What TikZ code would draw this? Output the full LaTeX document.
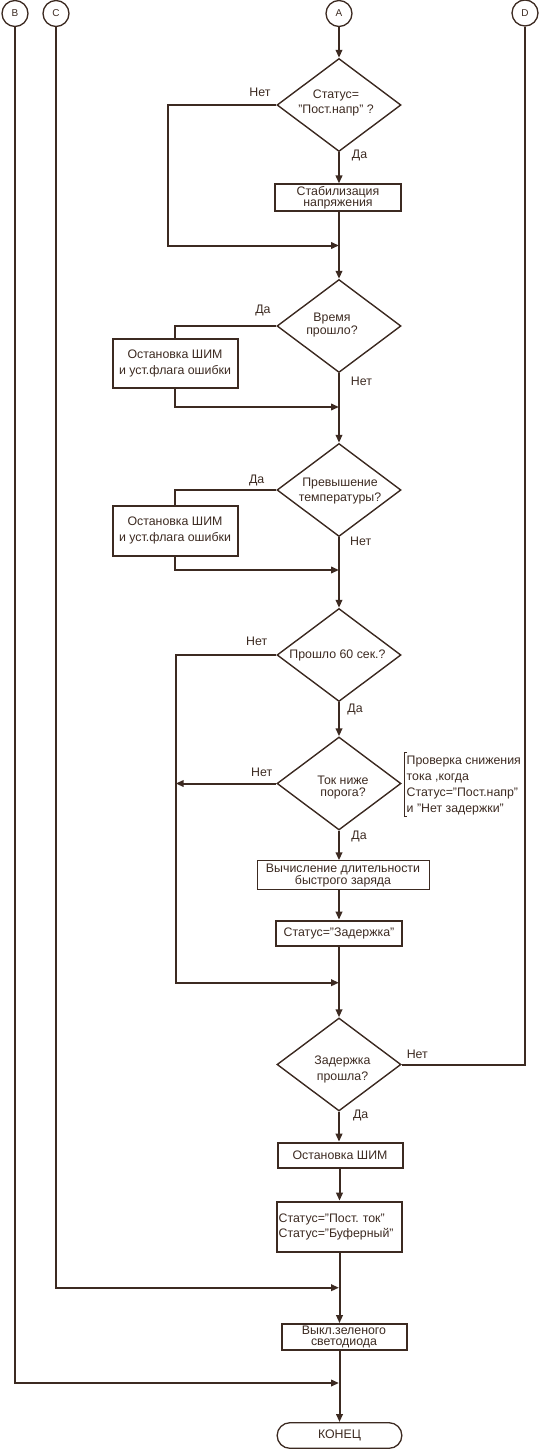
\documentclass[tikz,border=0pt]{standalone}
\usepackage{fontspec}
\setmainfont{Liberation Sans}
\usetikzlibrary{shapes.geometric,arrows.meta}
\definecolor{ln}{HTML}{3C2A21}
\frenchspacing
\begin{document}
\begin{tikzpicture}[x=1bp,y=-1bp,
  every node/.style={text=ln, font=\fontsize{12.4}{14}\selectfont},
  conn/.style={draw=ln, line width=2bp},
  arr/.style={conn, -{Triangle[length=8bp,width=6.5bp]}},
  dia/.style={shape=diamond, draw=ln, line width=1.4bp, minimum width=124bp, minimum height=93bp, inner sep=0pt},
  box/.style={draw=ln, line width=2bp, rectangle, inner sep=0pt, align=center},
  con/.style={circle, draw=ln, line width=1.3bp, minimum size=26bp, inner sep=0pt, font=\fontsize{10}{12}\selectfont},
  lbl/.style={inner sep=0pt}]
\path[use as bounding box] (0,0) rectangle (539,1451);

% connectors (circles)
\node[con] (A) at (339,13.5) {A};
\node[con] (B) at (15,13.5) {B};
\node[con] (C) at (56,13.5) {C};
\node[con] (D) at (525,13) {D};

% decisions and boxes
\node[dia] (d1) at (339,105) {};
\node[lbl, align=center, font=\fontsize{12.4}{15}\selectfont] at (336,103) {Статус=\\"Пост.напр" ?};
\node[box, minimum width=126bp, minimum height=26bp, font=\fontsize{12.4}{11.5}\selectfont] (s1) at (338,197.5) {Стабилизация\\напряжения};

\node[dia] (d2) at (339,326) {};
\node[lbl, align=center, font=\fontsize{12.4}{13}\selectfont] at (332,325) {Время\\прошло?};
\node[box, minimum width=125bp, minimum height=49bp, font=\fontsize{12.4}{16}\selectfont] (o1) at (175,363.5) {Остановка ШИМ\\и уст.флага ошибки};

\node[dia] (d3) at (339,490) {};
\node[lbl, align=center, font=\fontsize{12.4}{16}\selectfont] at (340,491) {Превышение\\температуры?};
\node[box, minimum width=125bp, minimum height=50bp, font=\fontsize{12.4}{16}\selectfont] (o2) at (175,530.5) {Остановка ШИМ\\и уст.флага ошибки};

\node[dia] (d4) at (339,655) {};
\node[lbl] at (337.5,655.5) {Прошло 60 сек.?};

\node[dia] (d5) at (339,783.5) {};
\node[lbl, align=center, font=\fontsize{12.4}{13}\selectfont] at (343,787.5) {Ток ниже\\порога?};

\node[box, line width=1bp, minimum width=172bp, minimum height=29bp, font=\fontsize{12.4}{10.5}\selectfont] (calc) at (343,875.3) {Вычисление длительности\\быстрого заряда};
\node[box, line width=2.3bp, minimum width=126bp, minimum height=25bp] (zad) at (339,933.3) {Статус="Задержка"};

\node[dia] (d6) at (339,1064.5) {};
\node[lbl, align=center, font=\fontsize{12.4}{16}\selectfont] at (342.5,1069) {Задержка\\прошла?};

\node[box, minimum width=125bp, minimum height=25.6bp] (ost) at (340,1155.5) {Остановка ШИМ};
\node[box, align=left, inner xsep=2bp, text width=121.6bp, minimum height=50.6bp, font=\fontsize{12.4}{15}\selectfont] (st2) at (339.5,1227) {Статус="Пост. ток"\\Статус="Буферный"};
\node[box, minimum width=125bp, minimum height=25.7bp, font=\fontsize{12.4}{11.5}\selectfont] (vykl) at (344,1337) {Выкл.зеленого\\светодиода};
\node[draw=ln, line width=1.3bp, rounded corners=12.8bp, minimum width=124.7bp, minimum height=25.6bp, inner sep=0pt] (konec) at (339.5,1435.5) {КОНЕЦ};

% annotation
\draw[draw=ln, line width=1bp] (407,752.7) -- (404.3,752.7) -- (404.3,816.7) -- (407,816.7);
\node[lbl, anchor=north west, align=left, font=\fontsize{12.4}{16}\selectfont] (note) at (406.5,755.5) {Проверка снижения\\тока ,когда\\Статус="Пост.напр"\\и "Нет задержки"};

% merge coordinates
\coordinate (k1) at (168,245.5);
\coordinate (m1) at (339,245.5);
\coordinate (m2) at (339,407);
\coordinate (m3) at (339,570);
\coordinate (k4) at (175.7,982.7);
\coordinate (m4) at (339,982.7);
\coordinate (mc) at (339,1287.7);
\coordinate (mb) at (339,1383);

% main flow
\draw[arr] (A.south) -- (d1.north);
\draw[arr] (d1.south) -- (d1.south |- s1.north);
\draw[arr] (s1.south -| d2.north) -- (d2.north);
\draw[arr] (d2.south) -- (d3.north);
\draw[arr] (d3.south) -- (d4.north);
\draw[arr] (d4.south) -- (d5.north);
\draw[arr] (d5.south) -- (d5.south |- calc.north);
\draw[arr] (calc.south -| zad.north) -- (zad.north);
\draw[arr] (zad.south) -- (d6.north);
\draw[arr] (d6.south) -- (d6.south |- ost.north);
\draw[arr] (ost.south -| st2.north) -- (st2.north);
\draw[arr] (st2.south) -- (st2.south |- vykl.north);
\draw[arr] (vykl.south -| konec.north) -- (konec.north);

% branches
\draw[arr] (d1.west) -| (k1) -- (m1);
\draw[conn] (d2.west) -| (o1.north);
\draw[arr] (o1.south) |- (m2);
\draw[conn] (d3.west) -| (o2.north);
\draw[arr] (o2.south) |- (m3);
\draw[arr] (d4.west) -| (k4) -- (m4);
\draw[arr] (d5.west) -- (d5.west -| k4);
\draw[conn] (d6.east) -| (D.south);
\draw[arr] (C.south) |- (mc);
\draw[arr] (B.south) |- (mb);

% labels
\node[lbl] at (260,92) {Нет};
\node[lbl] at (359.5,155) {Да};
\node[lbl] at (263,310) {Да};
\node[lbl] at (361.5,381) {Нет};
\node[lbl] at (256.7,480) {Да};
\node[lbl] at (360.7,541.7) {Нет};
\node[lbl] at (256.7,641.7) {Нет};
\node[lbl] at (355,709) {Да};
\node[lbl] at (261.7,772.7) {Нет};
\node[lbl] at (359,836.7) {Да};
\node[lbl] at (417.3,1054.3) {Нет};
\node[lbl] at (360.7,1115) {Да};
\end{tikzpicture}
\end{document}
